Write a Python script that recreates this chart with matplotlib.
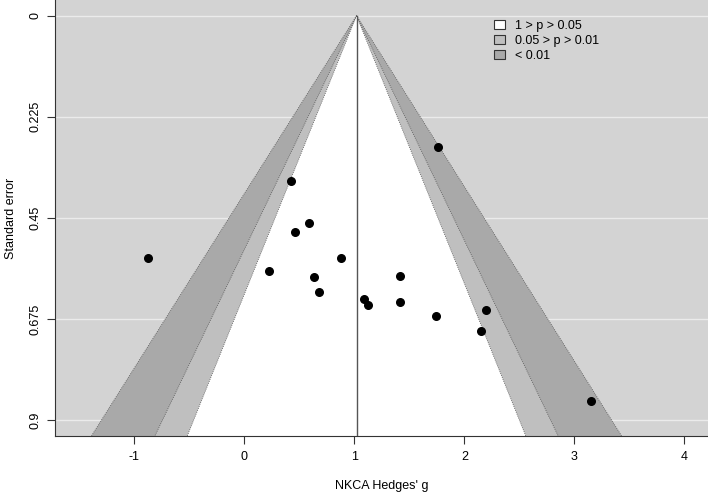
import numpy as np
import matplotlib
matplotlib.use('Agg')
import matplotlib.pyplot as plt
from matplotlib.patches import Patch

g = [1.764, 0.425, 0.591, 0.464, -0.873, 0.876, 0.225, 0.636, 0.679,
     1.091, 1.125, 1.418, 1.418, 1.743, 2.200, 2.152, 3.155]
se = [0.293, 0.368, 0.461, 0.481, 0.540, 0.540, 0.569, 0.582, 0.614,
      0.631, 0.643, 0.579, 0.637, 0.669, 0.656, 0.702, 0.858]

center = 1.02
z_levels = [1.645, 1.96, 2.576]
shade = ['white', '#BFBFBF', '#A9A9A9']
back = '#D3D3D3'
legend_labels = ['1 > p > 0.05', '0.05 > p > 0.01', '< 0.01']
yticks = [0, 0.225, 0.45, 0.675, 0.9]
xticks = [-1, 0, 1, 2, 3, 4]

plt.rcParams['font.family'] = ['Liberation Sans', 'DejaVu Sans']

fig = plt.figure(figsize=(7.08, 4.94), dpi=100)
ax = fig.add_axes([55 / 708, 58 / 494, 653 / 708, 436 / 494])
ax.set_facecolor(back)

ymax = 0.9355
ax.set_xlim(-1.721, 4.215)
ax.set_ylim(ymax, -0.035)

for t in yticks:
    ax.axhline(t, color='#EBEBEB', lw=1.0, zorder=1)

s = np.linspace(0, 1.2, 50)
# widest band first, narrower ones on top
for z, col in zip(z_levels[::-1], shade[::-1]):
    ax.fill_betweenx(s, center - z * s, center + z * s, color=col, lw=0, zorder=2)
for z in z_levels:
    ax.plot(center - z * s, s, color='#555555', lw=0.6, ls=(0, (1, 1.5)), zorder=3)
    ax.plot(center + z * s, s, color='#555555', lw=0.6, ls=(0, (1, 1.5)), zorder=3)

ax.plot([center, center], [0, ymax], color='#555555', lw=1, zorder=3)

ax.scatter(g, se, s=30, color='black', zorder=4)

ax.set_xticks(xticks)
ax.set_xticklabels([str(x) for x in xticks])
ax.set_yticks(yticks)
ax.set_yticklabels(['0', '0.225', '0.45', '0.675', '0.9'], rotation=90, va='center')
ax.tick_params(labelsize=9, length=6, color='#333333')
ax.tick_params(axis='x', pad=5)
ax.tick_params(axis='y', pad=4)
ax.spines['top'].set_visible(False)
ax.spines['right'].set_visible(False)
for sp in ['left', 'bottom']:
    ax.spines[sp].set_color('#333333')

ax.set_xlabel("NKCA Hedges' g", fontsize=9, labelpad=12)
ax.set_ylabel('Standard error', fontsize=9, labelpad=9)

handles = [Patch(facecolor=c, edgecolor='#333333', lw=0.8) for c in shade]
ax.legend(handles, legend_labels, loc='upper left', bbox_to_anchor=(0.655, 0.98),
          frameon=False, fontsize=9, handlelength=0.9, handleheight=0.75,
          handletextpad=0.8, labelspacing=0.25)

fig.savefig('out.png', dpi=100)
